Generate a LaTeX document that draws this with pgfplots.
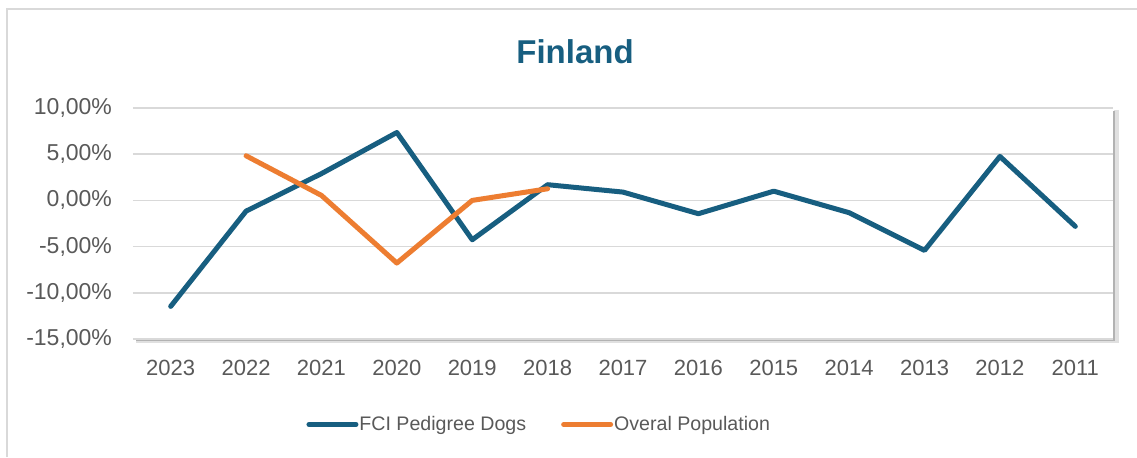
\documentclass[border=0pt]{standalone}
\usepackage{pgfplots}
\pgfplotsset{compat=1.18}
\usepackage{fontspec}
\setmainfont{Liberation Sans}
\definecolor{fciblue}{HTML}{175E80}
\definecolor{popor}{HTML}{ED7D31}
\definecolor{txtgrey}{HTML}{595959}
\definecolor{gridgrey}{HTML}{D9D9D9}
\begin{document}
\begin{tikzpicture}
% page is 1137x457 px at 0.5pt per px
\useasboundingbox (0,0) rectangle (568.5pt,228.5pt);
\draw[gridgrey,line width=0.9pt] (3.5pt,0) -- (3.5pt,224pt) -- (568.5pt,224pt);
\node[font=\fontsize{16.5}{18}\selectfont\bfseries,text=fciblue] at (287.5pt,202.5pt) {Finland};
% plot-area shadow
\fill[black!12] (557pt,57.5pt) rectangle (559.5pt,173.5pt);
\fill[black!12] (68pt,57pt) rectangle (559.5pt,59pt);
\draw[black!30,line width=0.8pt] (557pt,173pt) -- (557pt,58.5pt) -- (68pt,58.5pt);
\begin{axis}[
  at={(66.5pt,59pt)},anchor=south west,
  scale only axis,width=490pt,height=115.5pt,
  xmin=-0.5,xmax=12.5,ymin=-15,ymax=10,
  axis line style={draw=none},
  axis background/.style={fill=white},
  tick style={draw=none},
  xtick={0,...,12},
  xticklabels={2023,2022,2021,2020,2019,2018,2017,2016,2015,2014,2013,2012,2011},
  ytick={-15,-10,-5,0,5,10},
  yticklabels={{-15,00\%},{-10,00\%},{-5,00\%},{0,00\%},{5,00\%},{10,00\%}},
  ymajorgrids,
  major grid style={gridgrey,line width=0.75pt},
  ticklabel style={text=txtgrey},
  xticklabel style={font=\fontsize{11}{13}\selectfont,yshift=-7pt},
  yticklabel style={font=\fontsize{11.5}{13}\selectfont,xshift=-7pt},
  legend columns=-1,
  legend style={draw=none,fill=none,at={(0.414,-0.37)},anchor=center,
    font=\fontsize{9.8}{11}\selectfont,text=txtgrey,
    nodes={inner xsep=0.5pt},
    /tikz/every even column/.append style={column sep=17pt}},
  legend image code/.code={\draw[#1,line cap=round] (0pt,0pt) -- (23.5pt,0pt);},
]
\addplot[fciblue,line width=2.5pt,line join=round,line cap=round] coordinates {
 (0,-11.47) (1,-1.16) (2,2.9) (3,7.35) (4,-4.26) (5,1.7) (6,0.9) (7,-1.44)
 (8,1.0) (9,-1.33) (10,-5.41) (11,4.76) (12,-2.81)};
\addlegendentry{FCI Pedigree Dogs}
\addplot[popor,line width=2.5pt,line join=round,line cap=round] coordinates {
 (1,4.83) (2,0.54) (3,-6.78) (4,0.0) (5,1.26)};
\addlegendentry{Overal Population}
\end{axis}
\end{tikzpicture}
\end{document}
